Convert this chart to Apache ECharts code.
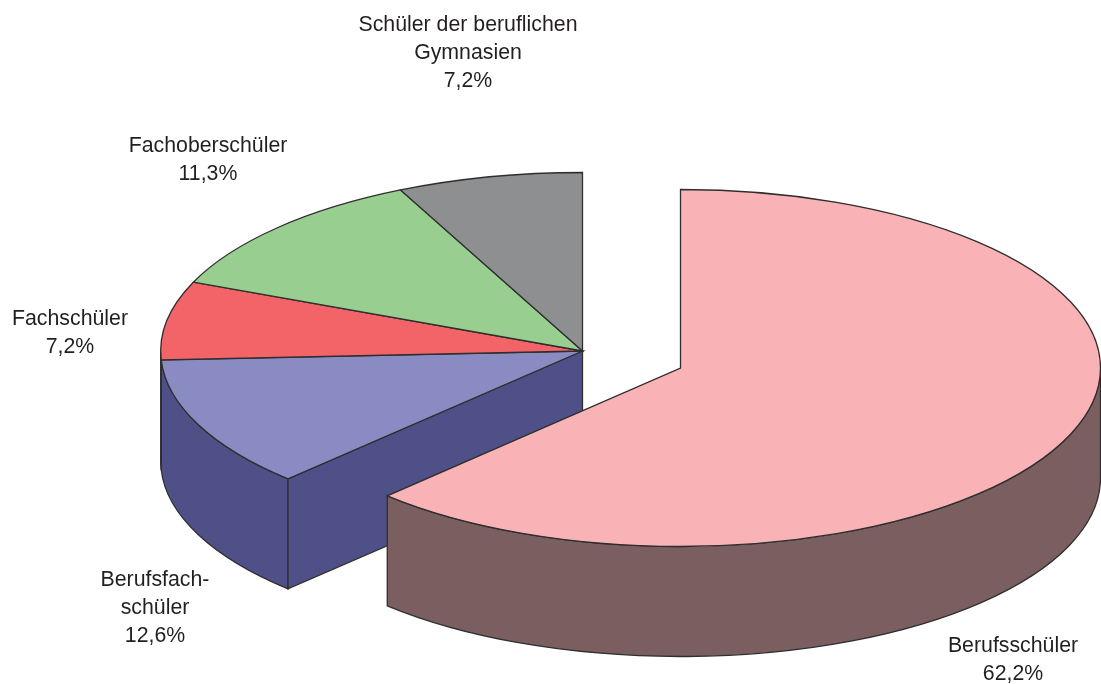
<!DOCTYPE html>
<html>
<head>
<meta charset="utf-8">
<style>
  html, body { margin: 0; padding: 0; background: #fff; }
  #main { width: 1101px; height: 684px; }
</style>
<script src="https://cdn.jsdelivr.net/npm/echarts@6/dist/echarts.min.js"></script>
</head>
<body>
<div id="main"></div>
<script>
var names = ['Berufsschüler', 'Berufsfach-\nschüler', 'Fachschüler', 'Fachoberschüler', 'Schüler der beruflichen\nGymnasien'];
// angle share as measured from the wedges; the printed percentages differ slightly
var shares = [62.3, 11.9, 7.1, 11.6, 7.1];
var printed = ['62,2%', '12,6%', '7,2%', '11,3%', '7,2%'];

var topColors = ['#f9b3b7', '#8a8bc3', '#f36469', '#98ce8f', '#8e8f91'];
var wallColors = ['#7b5f60', '#4f5087', '#7a3234', '#4c6748', '#474748'];
var labelPos = [[1013, 660], [155, 608], [70, 333], [208, 160], [468, 53]];

var ry = 178.5, depth = 110;
var pieCenter = [582.5, 351], pieRx = 421.8;
var pulledCenter = [680.5, 368], pulledRx = 420;
var edge = '#2e2e2e';

var total = shares.reduce(function (a, b) { return a + b; }, 0);

function pt(c, rx, deg, dy) {
    var r = deg * Math.PI / 180;
    return [c[0] + rx * Math.sin(r), c[1] - ry * Math.cos(r) + (dy || 0)];
}

function arcTo(rx, p, large, sweep) {
    return 'A' + rx + ' ' + ry + ' 0 ' + large + ' ' + sweep + ' ' + p[0] + ' ' + p[1];
}

function shapeEl(d, fill, z) {
    return {
        type: 'path',
        shape: { pathData: d },
        z2: z,
        style: { fill: fill, stroke: edge, lineWidth: 1.3 }
    };
}

function renderSlice(params, api) {
    var i = params.dataIndex;
    var before = 0;
    for (var k = 0; k < i; k++) before += shares[k];
    var a = before / total * 360;
    var b = a + api.value(0) / total * 360;
    var pulled = i === 0;
    var c = pulled ? pulledCenter : pieCenter;
    var rx = pulled ? pulledRx : pieRx;
    var z = pulled ? 10 : 1;
    var kids = [];

    // outer wall, front half only
    var wa = Math.max(a, 90), wb = Math.min(b, 270);
    if (wb > wa) {
        var p1 = pt(c, rx, wa), p2 = pt(c, rx, wb), p3 = pt(c, rx, wb, depth), p4 = pt(c, rx, wa, depth);
        kids.push(shapeEl('M' + p1[0] + ' ' + p1[1] + arcTo(rx, p2, 0, 1) +
            'L' + p3[0] + ' ' + p3[1] + arcTo(rx, p4, 0, 0) + 'Z', wallColors[i], z));
    }

    // cut face showing next to the gap left by the pulled slice
    if (i === 1) {
        var s = pt(c, rx, a);
        kids.push(shapeEl('M' + c[0] + ' ' + c[1] + 'L' + s[0] + ' ' + s[1] +
            'L' + s[0] + ' ' + (s[1] + depth) + 'L' + c[0] + ' ' + (c[1] + depth) + 'Z', wallColors[i], z));
    }

    var pa = pt(c, rx, a), pb = pt(c, rx, b);
    kids.push(shapeEl('M' + c[0] + ' ' + c[1] + 'L' + pa[0] + ' ' + pa[1] +
        arcTo(rx, pb, b - a > 180 ? 1 : 0, 1) + 'Z', topColors[i], z + 1));

    kids.push({
        type: 'text',
        z2: 20,
        style: {
            x: labelPos[i][0],
            y: labelPos[i][1],
            text: names[i] + '\n' + printed[i],
            fill: '#231f20',
            font: '21.3px "Liberation Sans", Arial, sans-serif',
            lineHeight: 28,
            align: 'center',
            verticalAlign: 'middle'
        }
    });

    return { type: 'group', children: kids };
}

var myChart = echarts.init(document.getElementById('main'), null, { renderer: 'canvas' });
var option = {
    animation: false,
    backgroundColor: '#fff',
    series: [
        {
            type: 'custom',
            coordinateSystem: 'none',
            renderItem: renderSlice,
            data: shares.map(function (v, i) { return { name: names[i], value: [v] }; })
        }
    ]
};
myChart.setOption(option);
</script>
</body>
</html>
